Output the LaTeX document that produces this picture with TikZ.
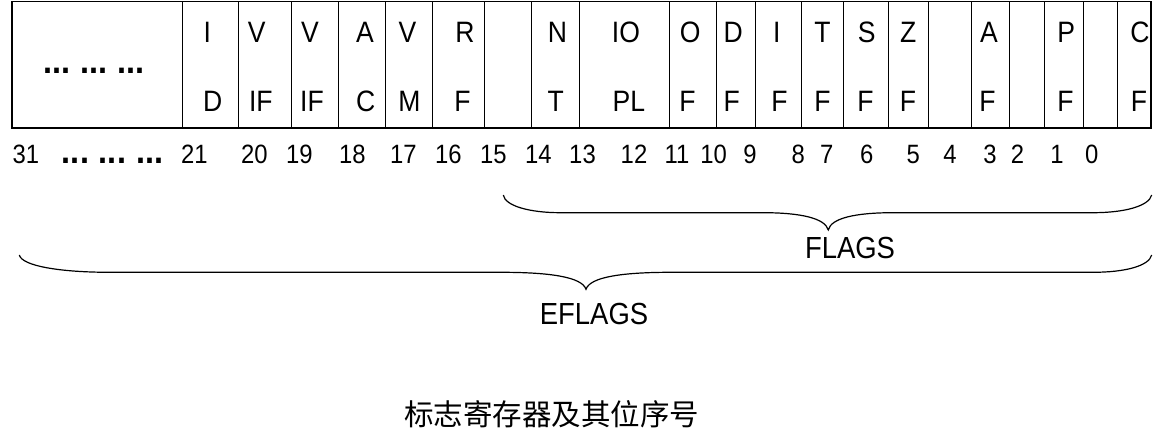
\documentclass[tikz,border=0pt]{standalone}
\usepackage{fontspec}
\setmainfont[FakeStretch=0.9]{Liberation Sans}
\newfontfamily\cjk{Noto Sans CJK SC}
\begin{document}
\begin{tikzpicture}[x=1pt,y=-1pt,
  lbl/.style={inner sep=0,anchor=base,font=\fontsize{29.5}{30}\selectfont},
  num/.style={inner sep=0,anchor=base,font=\fontsize{26.5}{27}\selectfont},
  captext/.style={inner sep=0,anchor=base,font=\fontsize{30.5}{31}\selectfont},
  dotstext/.style={inner sep=0,anchor=base,font=\bfseries\fontsize{36}{37}\selectfont},
  brc/.style={line width=1.2pt},
  cellline/.style={line width=1.1pt}]
\useasboundingbox (0,0) rectangle (1160,438);
% register box
\draw[line width=1.5pt] (12,1.5) rectangle (1151,128);
\foreach \x in {182.7,238.3,291.7,338.7,385.7,432.3,484.3,531.7,579.3,669.3,716.7,755.7,801.3,843.3,888.3,928.3,971.3,1009.3,1044.3,1083.7,1117.7}
  \draw[cellline] (\x,1.5) -- (\x,128);
% flag labels
\foreach \tx/\t/\bx/\b [count=\i] in {
  207.3/I/212.7/D, 256.7/V/260.8/IF, 310/V/312/IF, 365/A/365.8/C,
  407.5/V/409.5/M, 465/R/462.5/F, 557.5/N/555.8/T, 626/IO/628.8/PL,
  690.3/O/687.5/F, 733.3/D/731.7/F, 776.8/I/779.5/F, 822.5/T/822.5/F,
  866.7/S/865.5/F, 908.3/Z/908/F, 989/A/987.5/F, 1066.3/P/1065.5/F,
  1140/C/1139/F}
{
  \node[lbl] (t\i) at (\tx,42.7) {\t};
  \node[lbl] (b\i) at (\bx,111.7) {\b};
}
\node[dotstext] (dtop) at (94,74) {...\hspace{10pt}...\hspace{10pt}...};
% bit numbers
\foreach \x/\n [count=\i] in {
  26/31, 194.5/21, 254.5/20, 299.5/19, 352.5/18, 403.3/17, 448.3/16,
  493.3/15, 538.3/14, 582.5/13, 634/12, 677/11, 713.7/10, 750/9,
  798.3/8, 826.7/7, 866.7/6, 913.3/5, 950/4, 990/3, 1017.5/2,
  1057/1, 1091.7/0}
  \node[num] (n\i) at (\x,164) {\n};
\node[dotstext] (dbot) at (112.5,164) {...\hspace{10pt}...\hspace{10pt}...};
% FLAGS brace
\coordinate (fL) at (503.3,195);
\coordinate (fR) at (1151.7,195);
\coordinate (fT) at (828.3,230);
\draw[brc] (fL) .. controls (505,206) and (530,212.7) .. (560,212.7)
  -- (763,212.7) .. controls (800,212.7) and (825,218) .. (fT)
  .. controls (831,218) and (856,212.7) .. (893,212.7)
  -- (1093,212.7) .. controls (1125,212.7) and (1149,206) .. (fR);
\node[captext] (flags) at (850,259) {FLAGS};
% EFLAGS brace
\coordinate (eL) at (19.3,255);
\coordinate (eR) at (1151.7,255);
\coordinate (eT) at (586,289.3);
\draw[brc] (eL) .. controls (22,266) and (60,272.3) .. (110,272.3)
  -- (501,272.3) .. controls (550,272.3) and (582,277) .. (eT)
  .. controls (590,277) and (622,272.3) .. (671,272.3)
  -- (1093,272.3) .. controls (1125,272.3) and (1149,266) .. (eR);
\node[captext] (eflags) at (594,325) {EFLAGS};
% caption
\node[inner sep=0,anchor=base,font=\cjk\fontsize{29.5}{30}\selectfont] (title) at (551.7,425.5) {标志寄存器及其位序号};
\end{tikzpicture}
\end{document}
